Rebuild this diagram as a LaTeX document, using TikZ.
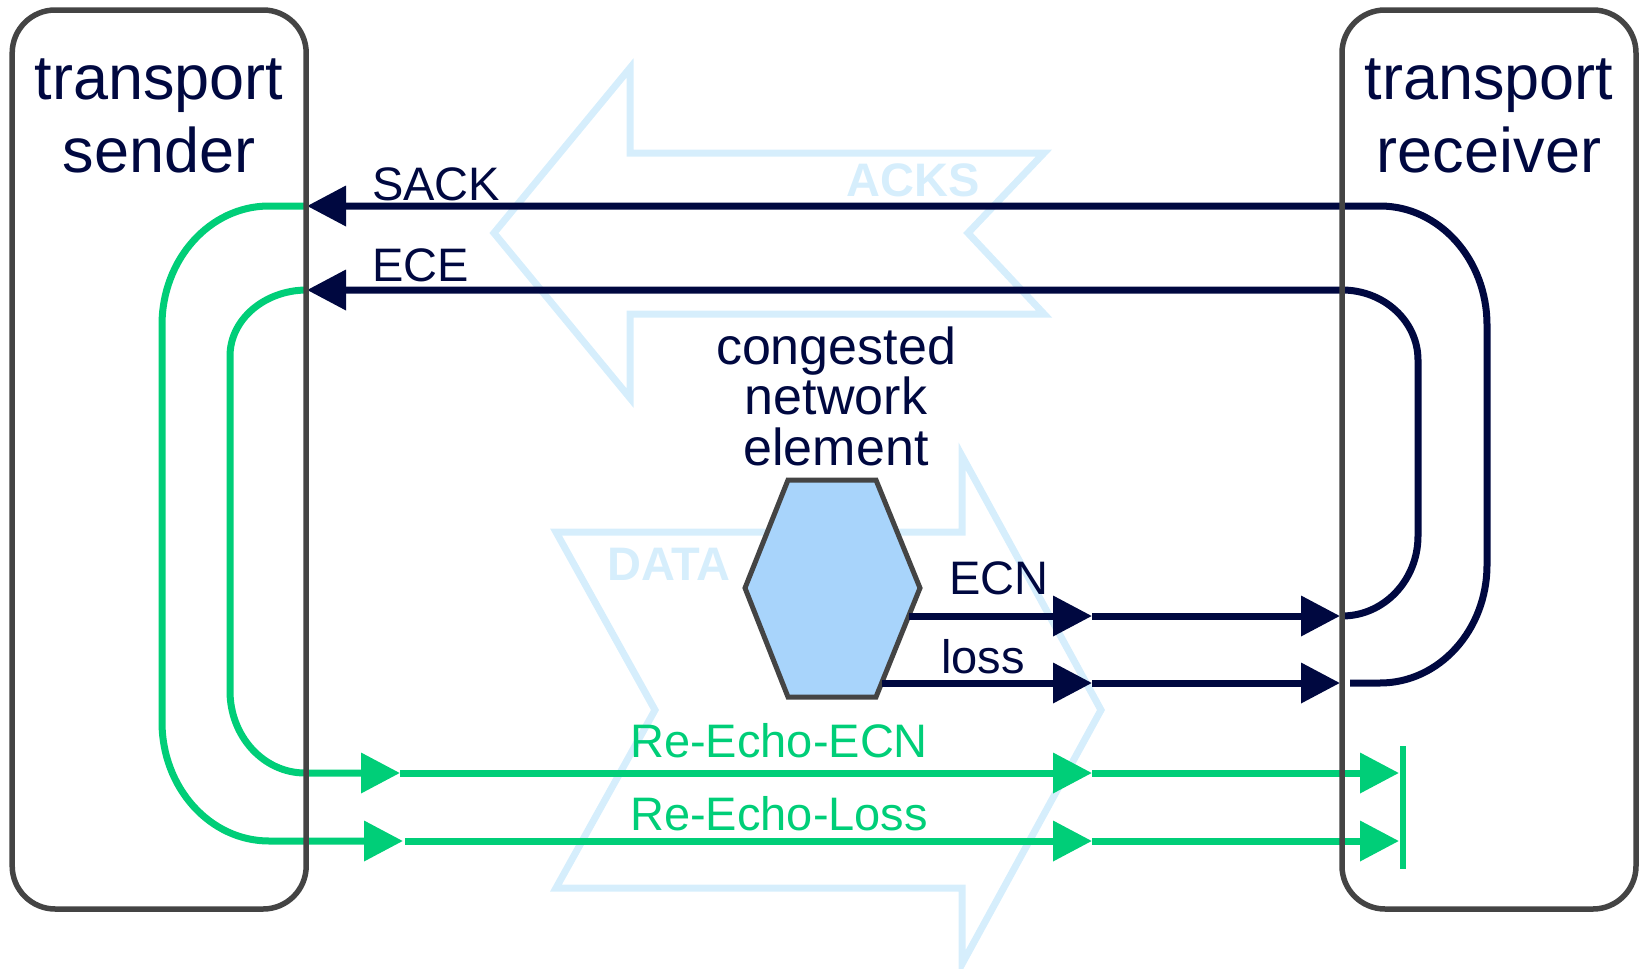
\documentclass[tikz,border=0pt]{standalone}
\usepackage{fontspec}
\setmainfont{Liberation Sans}
\usetikzlibrary{arrows.meta}
\definecolor{navy}{RGB}{0,8,64}
\definecolor{grn}{RGB}{0,206,120}
\definecolor{boxgray}{RGB}{68,68,68}
\definecolor{hexfill}{RGB}{168,212,251}
\definecolor{ghost}{RGB}{214,238,252}
\begin{document}
\begin{tikzpicture}[x=1pt,y=-1pt,
  bigarrow/.style={draw=ghost, line width=7pt, line join=miter},
  ghosttext/.style={text=ghost, font=\fontsize{47}{50}\selectfont\bfseries, anchor=base west, inner sep=0pt},
  sig/.style={draw=navy, line width=7pt},
  echo/.style={draw=grn, line width=7pt},
  arr/.style={-{Triangle[length=39pt,width=39pt]}},
  lbl/.style={text=navy, font=\fontsize{47}{50}\selectfont, anchor=base west, inner sep=0pt},
  glbl/.style={text=grn, font=\fontsize{47}{50}\selectfont, anchor=base west, inner sep=0pt},
  hostbox/.style={draw=boxgray, line width=5.5pt, rounded corners=43pt, inner sep=0pt, outer sep=0pt, minimum width=294pt, minimum height=899pt},
  hosttitle/.style={text=navy, font=\fontsize{63}{73}\selectfont, align=center, anchor=base, inner sep=0pt},
  router/.style={draw=boxgray, fill=hexfill, line width=5pt, line join=miter}]
\useasboundingbox (0,0) rectangle (1642,969);

% background flow arrows
\draw[bigarrow] (494,233) -- (630,68) -- (630,153) -- (1044,153) -- (968,233) -- (1044,314) -- (630,314) -- (630,398) -- cycle;
\draw[bigarrow] (556,532) -- (962,532) -- (962,456) -- (1101,710) -- (962,964) -- (962,888) -- (556,888) -- (655,710) -- cycle;
\node[ghosttext] (acks) at (846,196) {ACKS};
\node[ghosttext] (data) at (607,580) {DATA};

% congested network element
\draw[router] (745,588) -- (788,480) -- (876,480) -- (920,588) -- (876,697) -- (788,697) -- cycle;
\node[text=navy, font=\fontsize{52}{50.5}\selectfont, align=center, anchor=base, inner sep=0pt] (celabel) at (836,465) {congested\\network\\element};

% named points
\coordinate (ecnSrc) at (909,616);
\coordinate (lossSrc) at (882,683);
\coordinate (ecnMid) at (1092,616);
\coordinate (lossMid) at (1092,683);
\coordinate (ecnRcv) at (1340,616);
\coordinate (lossRcv) at (1340,683);
\coordinate (sackSnd) at (307,206);
\coordinate (eceSnd) at (307,290);
\coordinate (reEcnA) at (400,773);
\coordinate (reLossA) at (403,841);
\coordinate (reEcnMid) at (1092,773);
\coordinate (reLossMid) at (1092,841);
\coordinate (reEcnRcv) at (1399,773);
\coordinate (reLossRcv) at (1399,841);
\coordinate (barTop) at (1403,746);
\coordinate (barBot) at (1403,869);

% forward congestion signals
\draw[sig, arr] (ecnSrc) -- (ecnMid);
\draw[sig, arr] (ecnMid) -- (ecnRcv);
\draw[sig, arr] (lossSrc) -- (lossMid);
\draw[sig, arr] (lossMid) -- (lossRcv);

% feedback loops at receiver
\draw[sig, arr] (1350,683) -- (1380,683) arc[start angle=90, end angle=0, x radius=107, y radius=118] -- (1487,325) arc[start angle=0, end angle=-90, x radius=107, y radius=119] -- (sackSnd);
\draw[sig, arr] (1342,616) arc[start angle=90, end angle=0, x radius=76, y radius=80] -- (1418,360) arc[start angle=0, end angle=-90, x radius=76, y radius=70] -- (eceSnd);

% re-echo loops at sender
\draw[echo, arr] (sackSnd) -- (269,206) arc[start angle=-90, end angle=-180, x radius=107, y radius=119] -- (162,722) arc[start angle=180, end angle=90, x radius=107, y radius=119] -- (reLossA);
\draw[echo, arr] (eceSnd) arc[start angle=-90, end angle=-180, x radius=77, y radius=66] -- (230,691) arc[start angle=180, end angle=90, x radius=75, y radius=82] -- (reEcnA);
\draw[echo, arr] (reEcnA) -- (reEcnMid);
\draw[echo, arr] (reEcnMid) -- (reEcnRcv);
\draw[echo, arr] ([xshift=2pt]reLossA) -- (reLossMid);
\draw[echo, arr] (reLossMid) -- (reLossRcv);
\draw[draw=grn, line width=6pt] (barTop) -- (barBot);

% labels
\node[lbl] (sackl) at (372,200) {SACK};
\node[lbl] (ecel) at (372,281) {ECE};
\node[lbl] (ecnl) at (949,594) {ECN};
\node[lbl] (lossl) at (941,673) {loss};
\node[glbl] (reecnl) at (630,757) {Re-Echo-ECN};
\node[glbl] (relossl) at (630,830) {Re-Echo-Loss};

% end hosts
\node[hostbox] (sender) at (159.2,459.5) {};
\node[hostbox] (receiver) at (1489,459.5) {};
\node[hosttitle] (sendert) at (159,172) {transport\\sender};
\node[hosttitle] (receivert) at (1489,172) {transport\\receiver};
\end{tikzpicture}
\end{document}
